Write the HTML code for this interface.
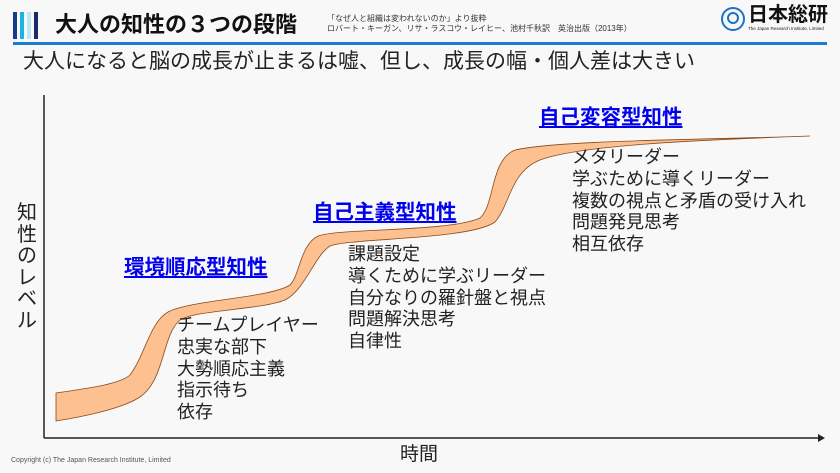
<!DOCTYPE html>
<html><head><meta charset="utf-8"><style>
body{margin:0;width:840px;height:473px;background:#f8f8f8;position:relative;overflow:hidden;font-family:"Liberation Sans","Noto Sans CJK JP",sans-serif;color:#222}
.a{position:absolute;white-space:nowrap}
.h{position:absolute;white-space:nowrap;color:#0000ee;font-weight:bold;font-size:20.5px;text-decoration:underline;line-height:22px}
.l{position:absolute;font-size:18px;line-height:21.8px;white-space:nowrap}
</style></head><body>
<div class="a" style="left:13px;top:12px;width:4px;height:27px;background:#1a3a8a"></div>
<div class="a" style="left:20px;top:12px;width:4px;height:27px;background:#19b5e0"></div>
<div class="a" style="left:27px;top:12px;width:4px;height:27px;background:#bfe8f5"></div>
<div class="a" style="left:34px;top:12px;width:4px;height:27px;background:#1a2a6a"></div>
<div class="a" style="left:55px;top:10px;font-size:22px;font-weight:bold;color:#111;line-height:30px">大人の知性の３つの段階</div>
<div class="a" style="left:327px;top:14px;font-size:8px;line-height:10px;color:#333">「なぜ人と組織は変われないのか」より抜粋<br>ロバート・キーガン、リサ・ラスコウ・レイヒー、池村千秋訳　英治出版（2013年）</div>
<svg class="a" style="left:720px;top:6px" width="26" height="26"><circle cx="13" cy="13" r="11" fill="none" stroke="#1a73c8" stroke-width="2"/><circle cx="13" cy="12" r="5" fill="none" stroke="#1a73c8" stroke-width="2"/></svg>
<div class="a" style="left:748px;top:3px;font-size:20px;font-weight:bold;color:#111;line-height:24px">日本総研</div>
<div class="a" style="left:748px;top:26px;font-size:4.5px;color:#222">The Japan Research Institute, Limited</div>
<div class="a" style="left:13px;top:42px;width:814px;height:3px;background:#1a7bd0"></div>
<div class="a" style="left:23px;top:48px;font-size:21px;line-height:27px;color:#222">大人になると脳の成長が止まるは嘘、但し、成長の幅・個人差は大きい</div>
<svg class="a" style="left:0;top:0" width="840" height="473">
<path d="M56,393 C90,388 120,384 130,375 C145,355 150,322 168,312 C190,300 270,298 290,285 C300,275 300,245 318,236 C340,228 450,232 480,218 C495,205 490,160 515,150 C560,140 700,140 810,136 C700,140 580,145 540,160 C510,172 510,205 495,222 C470,240 350,238 330,246 C315,255 305,290 285,300 C260,310 195,310 180,320 C162,335 165,380 140,397 C120,410 75,418 56,421 Z" fill="#fdc090" stroke="#8a4a1a" stroke-width="0.8"/>
<line x1="44" y1="95" x2="44" y2="438" stroke="#222" stroke-width="1.5"/>
<line x1="44" y1="438" x2="818" y2="438" stroke="#222" stroke-width="1.5"/>
<path d="M818,434 L825,438 L818,442 Z" fill="#222"/>
</svg>
<div class="a" style="left:17px;top:203px;font-size:20px;line-height:21.5px;width:22px;white-space:normal">知性のレベル</div>
<div class="h" style="left:124px;top:257px">環境順応型知性</div>
<div class="h" style="left:313px;top:202px">自己主義型知性</div>
<div class="h" style="left:539px;top:107px">自己変容型知性</div>
<div class="l" style="left:177px;top:315px">チームプレイヤー<br>忠実な部下<br>大勢順応主義<br>指示待ち<br>依存</div>
<div class="l" style="left:348px;top:244px">課題設定<br>導くために学ぶリーダー<br>自分なりの羅針盤と視点<br>問題解決思考<br>自律性</div>
<div class="l" style="left:572px;top:147px">メタリーダー<br>学ぶために導くリーダー<br>複数の視点と矛盾の受け入れ<br>問題発見思考<br>相互依存</div>
<div class="a" style="left:400px;top:444px;font-size:19px;line-height:22px">時間</div>
<div class="a" style="left:11px;top:457px;font-size:7px;color:#555">Copyright (c) The Japan Research Institute, Limited</div>
</body></html>
